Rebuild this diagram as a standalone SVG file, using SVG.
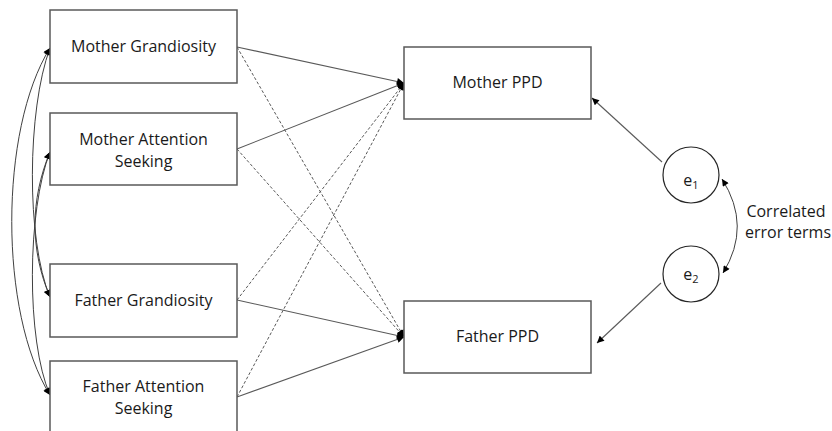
<svg xmlns="http://www.w3.org/2000/svg" width="832" height="431" viewBox="0 0 832 431">
<style>
.box{fill:#fff;stroke:#595959;stroke-width:1.5}
.circ{fill:#fff;stroke:#262626;stroke-width:1.2}
.t{font-family:"Open Sans","Liberation Sans",sans-serif;font-size:16px;fill:#1a1a1a;text-anchor:middle}
.c{fill:none;stroke:#404040;stroke-width:1}
.solid{fill:none;stroke:#595959;stroke-width:1.1}
.dash{fill:none;stroke:#595959;stroke-width:1;stroke-dasharray:3,2}
</style>
<defs>
<marker id="ah" viewBox="0 0 10 10" refX="10" refY="5" markerWidth="8" markerHeight="7" markerUnits="userSpaceOnUse" orient="auto-start-reverse">
<path d="M0,0 L10,5 L0,10 z" fill="#000"/>
</marker>
</defs>
<g id="connectors">
<path class="c" d="M50,48 C-1,130 -1,313 50,395" marker-start="url(#ah)" marker-end="url(#ah)"/>
<path class="c" d="M50,48 C27,110 26,240 50,297" marker-start="url(#ah)" marker-end="url(#ah)"/>
<path class="c" d="M50,152 C27,210 26,340 50,395" marker-start="url(#ah)" marker-end="url(#ah)"/>
<path class="c" d="M50,152 C30,200 30,250 50,297" marker-start="url(#ah)" marker-end="url(#ah)"/>
<line class="solid" x1="237" y1="47" x2="404" y2="83" marker-end="url(#ah)"/>
<line class="solid" x1="237" y1="149" x2="404" y2="83" marker-end="url(#ah)"/>
<line class="dash" x1="237" y1="300" x2="404" y2="83" marker-end="url(#ah)"/>
<line class="dash" x1="237" y1="397" x2="404" y2="83" marker-end="url(#ah)"/>
<line class="dash" x1="237" y1="47" x2="404" y2="337" marker-end="url(#ah)"/>
<line class="dash" x1="237" y1="149" x2="404" y2="337" marker-end="url(#ah)"/>
<line class="solid" x1="237" y1="300" x2="404" y2="337" marker-end="url(#ah)"/>
<line class="solid" x1="237" y1="397" x2="404" y2="337" marker-end="url(#ah)"/>
<line class="solid" x1="662" y1="162" x2="592" y2="98" marker-end="url(#ah)"/>
<line class="solid" x1="661" y1="283" x2="597" y2="343" marker-end="url(#ah)"/>
<path class="c" d="M722,179 Q752,226 723,273" marker-start="url(#ah)" marker-end="url(#ah)"/>
</g>
<g id="mother-grandiosity">
<rect class="box" x="50" y="10" width="187" height="73"/>
<text class="t" x="143.5" y="52">Mother Grandiosity</text>
</g>
<g id="mother-attention-seeking">
<rect class="box" x="50" y="113" width="187" height="72"/>
<text class="t" x="143.5" y="145">Mother Attention</text>
<text class="t" x="143.5" y="167">Seeking</text>
</g>
<g id="father-grandiosity">
<rect class="box" x="50" y="264" width="187" height="73"/>
<text class="t" x="143.5" y="306">Father Grandiosity</text>
</g>
<g id="father-attention-seeking">
<rect class="box" x="50" y="361" width="187" height="74"/>
<text class="t" x="143.5" y="392">Father Attention</text>
<text class="t" x="143.5" y="414">Seeking</text>
</g>
<g id="mother-ppd">
<rect class="box" x="404" y="47" width="187" height="72"/>
<text class="t" x="497.5" y="88">Mother PPD</text>
</g>
<g id="father-ppd">
<rect class="box" x="404" y="301" width="187" height="72"/>
<text class="t" x="497.5" y="342">Father PPD</text>
</g>
<g id="e1">
<circle class="circ" cx="691" cy="175" r="28"/>
<text class="t" x="691" y="186">e<tspan font-size="11" dy="3">1</tspan></text>
</g>
<g id="e2">
<circle class="circ" cx="691" cy="274" r="28"/>
<text class="t" x="691" y="280">e<tspan font-size="11" dy="3">2</tspan></text>
</g>
<g id="note">
<text class="t" x="786" y="217">Correlated</text>
<text class="t" x="788" y="238">error terms</text>
</g>
</svg>
